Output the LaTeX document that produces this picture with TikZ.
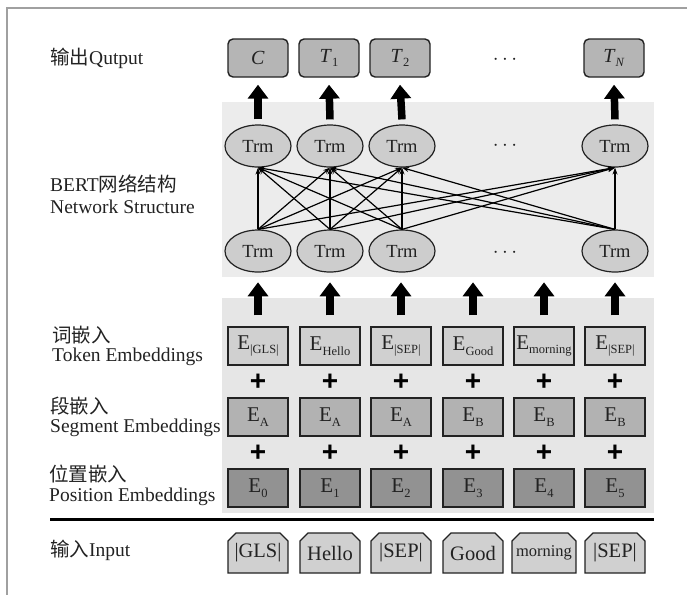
\documentclass[tikz,border=0pt]{standalone}
\usepackage{fontspec}
\setmainfont{Liberation Serif}
\newfontfamily\cjk{Noto Sans CJK SC}
\newfontfamily\plusfont{Liberation Sans}
\usetikzlibrary{arrows.meta,shapes.geometric,shapes.misc}
% lowered small subscript in text font
\newcommand{\lowtxt}[1]{\raisebox{-0.5ex}{\fontsize{12.5}{12.5}\selectfont #1}}
\definecolor{inkc}{HTML}{222222}
\definecolor{netbg}{HTML}{ECECEC}
\definecolor{embbg}{HTML}{E6E6E6}
\definecolor{outfill}{HTML}{B5B5B5}
\definecolor{trmfill}{HTML}{CDCDCD}
\definecolor{tokfill}{HTML}{D0D0D0}
\definecolor{segfill}{HTML}{B2B2B2}
\definecolor{posfill}{HTML}{929292}
\definecolor{infill}{HTML}{D0D0D0}
\definecolor{framec}{HTML}{A0A0A0}
\begin{document}
\begin{tikzpicture}[x=1pt,y=-1pt,
  lbl/.style={anchor=west,inner sep=0pt,text=inkc,font=\fontsize{19.5}{22}\selectfont},
  outbox/.style={draw=inkc,line width=1.4pt,fill=outfill,rounded corners=5pt,
    minimum width=60pt,minimum height=38pt,inner sep=0pt,text=inkc,font=\fontsize{20}{22}\selectfont},
  trm/.style={ellipse,draw=inkc,line width=1.2pt,fill=trmfill,minimum width=66pt,
    minimum height=42pt,inner sep=0pt,text=inkc,font=\fontsize{18.5}{20}\selectfont},
  ebox/.style={draw=inkc,line width=1.4pt,minimum width=60pt,minimum height=38pt,
    inner sep=0pt,text=inkc,font=\fontsize{21}{22}\selectfont},
  inbox/.style={chamfered rectangle,chamfered rectangle corners={north west,north east},
    chamfered rectangle xsep=4pt,chamfered rectangle ysep=4pt,
    draw=inkc,line width=1.2pt,fill=infill,minimum width=60pt,minimum height=40pt,
    inner sep=0pt,text=inkc,font=\fontsize{20.5}{22}\selectfont},
  plusmark/.style={inner sep=0pt,font=\plusfont\bfseries\fontsize{28}{28}\selectfont},
  dotsmark/.style={inner sep=0pt,text=inkc,font=\fontsize{22}{22}\selectfont},
  bigarrow/.style={line width=7.5pt,-{Triangle[width=20pt,length=14pt]}},
  link/.style={line width=1.2pt,-{Stealth[length=7pt,width=5pt]}},
]
\useasboundingbox (0,0) rectangle (687,595);

% frame lines on the top and left
\draw[framec,line width=2pt] (687,8) -- (7,8) -- (7,595);

% shaded panels
\fill[netbg] (222,102) rectangle (654,277);
\fill[embbg] (222,298) rectangle (654,513);

% row labels
\node[lbl] (lout) at (50,58) {{\cjk 输出}Qutput};
\node[lbl] (lbert) at (50,184) {BERT{\cjk 网络结构}};
\node[lbl] (lnet) at (50,207) {Network Structure};
\node[lbl] (ltokc) at (52,335) {{\cjk 词嵌入}};
\node[lbl] (ltok) at (52,357) {Token Embeddings};
\node[lbl] (lsegc) at (50,406) {{\cjk 段嵌入}};
\node[lbl] (lseg) at (50,428) {Segment Embeddings};
\node[lbl] (lposc) at (49,474) {{\cjk 位置嵌入}};
\node[lbl] (lpos) at (49,497) {Position Embeddings};
\node[lbl] (lin) at (50,550) {{\cjk 输入}Input};

% output row
\node[outbox] (o1) at (258,58) {\textit{C}};
\node[outbox] (o2) at (329,58) {\textit{T}\lowtxt{1}};
\node[outbox] (o3) at (400,58) {\textit{T}\lowtxt{2}};
\node[dotsmark] (od) at (505,60) {$\cdots$};
\node[outbox] (o4) at (614,58) {\textit{T}\lowtxt{\textit{N}}};

% transformer layers
\foreach \n/\x in {1/258,2/330,3/402,4/615}{
  \node[trm] (u\n) at (\x,146) {Trm};
  \node[trm] (b\n) at (\x,251) {Trm};
}
\node[dotsmark] (ud) at (505,146) {$\cdots$};
\node[dotsmark] (bd) at (505,253) {$\cdots$};

% full connections between the two layers
\foreach \i in {1,2,3,4}{
  \foreach \j in {1,2,3,4}{
    \draw[link] (b\i.north) -- (u\j.south);
  }
}

% arrows from the top layer to the outputs
\foreach \n in {1,2,3,4}{
  \draw[bigarrow] ([yshift=5pt]u\n.north) -- ([yshift=-7pt]o\n.south);
}

% embeddings and inputs
\foreach \n/\x/\tok/\seg/\pos/\inp in {
  1/258/{\lowtxt{|GLS|}}/A/0/{|GLS|},
  2/330/{\lowtxt{Hello}}/A/1/{Hello},
  3/401/{\lowtxt{|SEP|}}/A/2/{|SEP|},
  4/473/{\lowtxt{Good}}/B/3/{Good},
  5/544/{\lowtxt{morning}}/B/4/{\fontsize{16.5}{18}\selectfont morning},
  6/615/{\lowtxt{|SEP|}}/B/5/{|SEP|}}{
  \node[ebox,fill=tokfill] (t\n) at (\x,346) {E\tok};
  \node[plusmark] (p\n) at (\x,382) {+};
  \node[ebox,fill=segfill] (s\n) at (\x,417) {E\lowtxt{\seg}};
  \node[plusmark] (q\n) at (\x,453) {+};
  \node[ebox,fill=posfill] (e\n) at (\x,488) {E\lowtxt{\pos}};
  \node[inbox] (i\n) at (\x,553) {\inp};
  \draw[bigarrow] ([yshift=11pt]t\n.north) -- ([yshift=44pt]t\n.north);
}

% separator between embeddings and inputs
\coordinate (sepl) at (50,519);
\coordinate (sepr) at (654,519);
\draw[black,line width=3pt] (sepl) -- (sepr);
\end{tikzpicture}
\end{document}
